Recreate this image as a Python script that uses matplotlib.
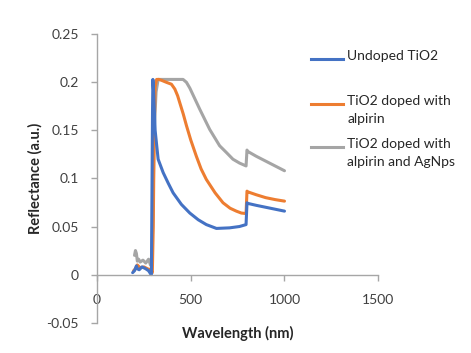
import numpy as np
import matplotlib
matplotlib.use('Agg')
from matplotlib import pyplot as plt
from matplotlib.lines import Line2D

# series labels and colours
labels = ['Undoped TiO2', 'TiO2 doped with\nalpirin', 'TiO2 doped with\nalpirin and AgNps']
colors = ['#4472C4', '#ED7D31', '#A5A5A5']

# wavelength (nm) / reflectance
wl_blue = [190, 200, 210, 215, 225, 240, 260, 275, 285, 290, 293, 296, 298, 302, 310, 326, 353, 380,
           406, 450, 495, 540, 583, 637, 707, 760, 795, 800, 805, 850, 900, 950, 1000]
r_blue = [0.002, 0.004, 0.009, 0.006, 0.005, 0.008, 0.006, 0.004, 0.001, 0.0, 0.08, 0.17, 0.203, 0.19,
          0.15, 0.12, 0.106, 0.095, 0.085, 0.073, 0.064, 0.057, 0.052, 0.048, 0.0486, 0.05, 0.052, 0.0747,
          0.074, 0.072, 0.070, 0.068, 0.066]

wl_orange = [195, 205, 215, 230, 250, 270, 285, 295, 300, 305, 310, 318, 330, 345, 370, 397, 415, 430,
             441, 460, 477, 500, 530, 555, 583, 630, 672, 710, 743, 770, 795, 800, 805, 850, 900, 950, 1000]
r_orange = [0.004, 0.006, 0.01, 0.007, 0.008, 0.006, 0.005, 0.002, 0.05, 0.15, 0.195, 0.203, 0.203, 0.202,
            0.2, 0.198, 0.193, 0.186, 0.179, 0.167, 0.155, 0.14, 0.123, 0.11, 0.099, 0.085, 0.0747, 0.069,
            0.066, 0.064, 0.0635, 0.0868, 0.086, 0.083, 0.080, 0.078, 0.0764]

wl_gray = [200, 205, 210, 215, 222, 230, 245, 260, 275, 285, 292, 298, 305, 315, 326, 360, 400, 440, 459,
           477, 495, 548, 601, 654, 690, 725, 760, 795, 800, 805, 850, 900, 950, 1000]
r_gray = [0.02, 0.025, 0.022, 0.014, 0.016, 0.013, 0.015, 0.012, 0.016, 0.01, 0.012, 0.06, 0.15, 0.19,
          0.203, 0.203, 0.203, 0.203, 0.203, 0.2, 0.194, 0.172, 0.151, 0.134, 0.127, 0.12, 0.116, 0.113,
          0.1295, 0.128, 0.123, 0.118, 0.113, 0.108]

xticks = [0, 500, 1000, 1500]
yticks = [-0.05, 0, 0.05, 0.1, 0.15, 0.2, 0.25]
ytick_labels = ['-0.05', '0', '0.05', '0.1', '0.15', '0.2', '0.25']

plt.rcParams['font.family'] = ['Lato', 'DejaVu Sans']
fig = plt.figure(figsize=(4.71, 3.53), dpi=100)
ax = fig.add_axes([0.206, 0.086, 0.597, 0.817])

series = [(wl_blue, r_blue), (wl_orange, r_orange), (wl_gray, r_gray)]
# draw gray first so blue sits on top, like the original
for i in [2, 1, 0]:
    ax.plot(series[i][0], series[i][1], color=colors[i], lw=2.2, solid_capstyle='round')

ax.set_xlim(0, 1500)
ax.set_ylim(-0.05, 0.25)
ax.set_xticks(xticks)
ax.set_yticks(yticks)
ax.set_yticklabels(ytick_labels)

for s in ['top', 'right']:
    ax.spines[s].set_visible(False)
ax.spines['bottom'].set_position(('data', 0))
for s in ['left', 'bottom']:
    ax.spines[s].set_color('#A6A6A6')
    ax.spines[s].set_linewidth(1.0)
ax.tick_params(axis='both', colors='#A6A6A6', labelcolor='#404040', labelsize=10, length=4, width=1)
ax.tick_params(axis='x', pad=10)
ax.tick_params(axis='y', pad=9)

ax.set_xlabel('Wavelength (nm)', fontsize=10.5, fontweight='bold', color='#262626')
ax.set_ylabel('Reflectance (a.u.)', fontsize=10.5, fontweight='bold', color='#262626')
ax.xaxis.set_label_coords(0.5, -0.01)
ax.yaxis.set_label_coords(-0.195, 0.5)

# legend drawn at the right, Excel style (handle on first text line)
leg_y = [0.833, 0.706, 0.584]
for i in range(3):
    fig.add_artist(Line2D([0.661, 0.728], [leg_y[i], leg_y[i]], color=colors[i], lw=2.2,
                          transform=fig.transFigure))
    fig.text(0.737, leg_y[i] + 0.024, labels[i], fontsize=10, color='#262626', va='top',
             linespacing=1.55, transform=fig.transFigure)

fig.savefig('out.png', dpi=100)
